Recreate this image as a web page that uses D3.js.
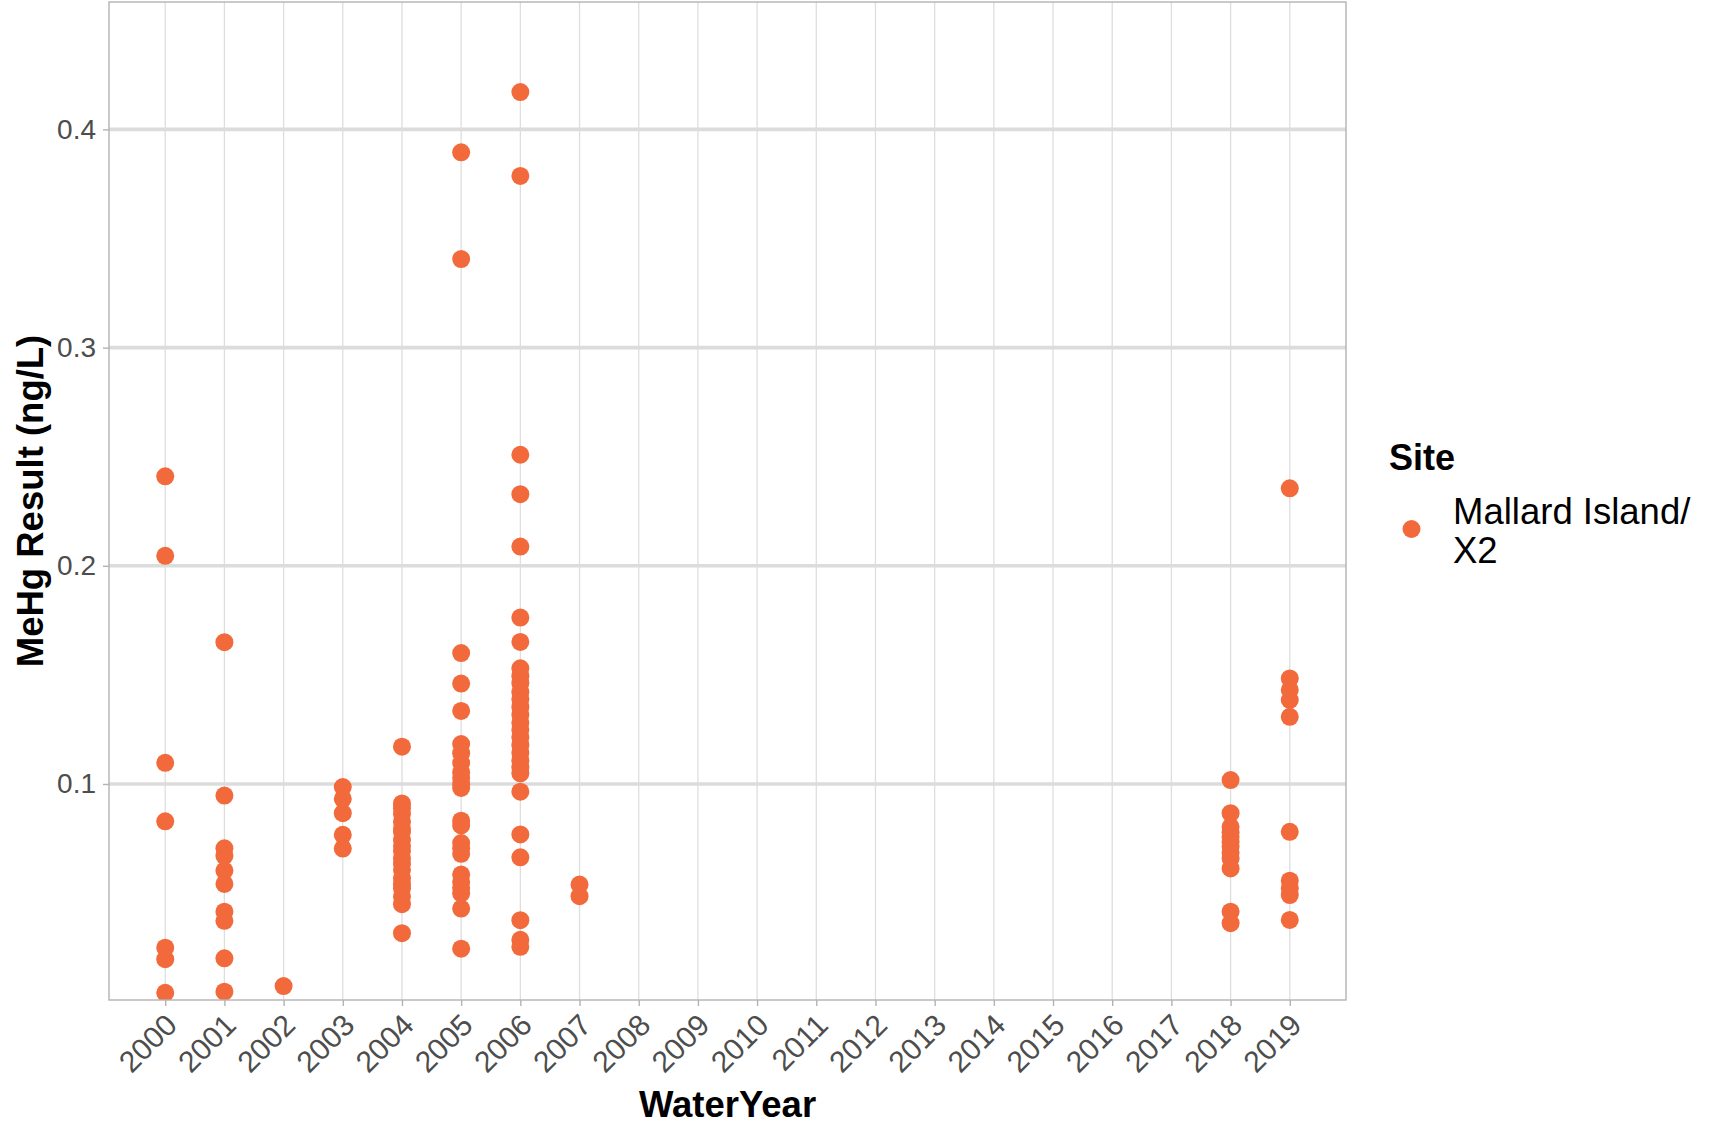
<!DOCTYPE html>
<html>
<head>
<meta charset="utf-8">
<script src="https://cdn.jsdelivr.net/npm/d3@7"></script>
<style>
  html, body { margin: 0; padding: 0; background: #ffffff; }
  svg { display: block; font-family: "Liberation Sans", Arial, sans-serif; }
</style>
</head>
<body>
<svg id="chart" width="1713" height="1126"></svg>
<script>
// ---- Data ----
const tickYears = [2000,2001,2002,2003,2004,2005,2006,2007,2008,2009,2010,2011,2012,2013,2014,2015,2016,2017,2018,2019];
const yTicks = [0.1, 0.2, 0.3, 0.4];
const siteName = "Mallard Island/ X2";

const wy2000 = [0.241, 0.2046, 0.1097, 0.0829, 0.0250, 0.0197, 0.0043];
const wy2001 = [0.165, 0.0947, 0.0705, 0.0670, 0.0603, 0.0542, 0.0415, 0.0373, 0.0201, 0.0048];
const wy2002 = [0.0074];
const wy2003 = [0.0986, 0.0932, 0.0866, 0.0767, 0.0704];
const wy2004 = [0.1171, 0.0911, 0.0889, 0.0862, 0.0827, 0.0795, 0.0781, 0.0743, 0.0716, 0.0694, 0.0659, 0.0633, 0.0606, 0.0568, 0.0541, 0.0522, 0.0484, 0.0449, 0.0316];
const wy2005 = [0.3895, 0.3406, 0.1600, 0.1460, 0.1335, 0.1183, 0.1141, 0.1096, 0.1053, 0.1028, 0.0999, 0.0982, 0.0832, 0.0810, 0.0729, 0.0705, 0.0680, 0.0585, 0.0552, 0.0524, 0.0499, 0.0429, 0.0245];
const wy2006 = [0.4171, 0.3787, 0.2509, 0.2328, 0.2088, 0.1763, 0.1651, 0.1530, 0.1494, 0.1462, 0.1421, 0.1388, 0.1352, 0.1316, 0.1281, 0.1249, 0.1214, 0.1178, 0.1142, 0.1108, 0.1076, 0.1049, 0.0965, 0.0769, 0.0664, 0.0376, 0.0286, 0.0254];
const wy2007 = [0.0539, 0.0486];
const wy2018 = [0.1018, 0.0866, 0.0804, 0.0778, 0.0758, 0.0734, 0.0713, 0.0685, 0.0659, 0.0613, 0.0415, 0.0362];
const wy2019 = [0.2355, 0.1484, 0.1431, 0.1385, 0.1308, 0.0781, 0.0557, 0.0522, 0.0491, 0.0377];

const seriesByYear = [
  [2000, wy2000], [2001, wy2001], [2002, wy2002], [2003, wy2003], [2004, wy2004],
  [2005, wy2005], [2006, wy2006], [2007, wy2007], [2018, wy2018], [2019, wy2019]
];
const points = [];
seriesByYear.forEach(([yr, vals]) => vals.forEach(v => points.push({year: yr, value: v})));

// ---- Layout ----
const svg = d3.select("#chart");
const panel = {left: 109, right: 1346, top: 2, bottom: 1000};
const pointColor = "#F26A3C";

const x = d3.scaleLinear().domain([1999.05, 2019.95]).range([panel.left, panel.right]);
const y = d3.scaleLinear().domain([0.001, 0.4584]).range([panel.bottom, panel.top]);

svg.append("defs").append("clipPath").attr("id", "panelClip")
  .append("rect").attr("x", panel.left).attr("y", panel.top)
  .attr("width", panel.right - panel.left).attr("height", panel.bottom - panel.top);

svg.append("rect").attr("x", panel.left).attr("y", panel.top)
  .attr("width", panel.right - panel.left).attr("height", panel.bottom - panel.top)
  .attr("fill", "#ffffff");

// vertical grid lines
svg.append("g").selectAll("line").data(tickYears).join("line")
  .attr("x1", d => x(d)).attr("x2", d => x(d))
  .attr("y1", panel.top).attr("y2", panel.bottom)
  .attr("stroke", "#DEDEDE").attr("stroke-width", 1.3);

// horizontal grid lines
svg.append("g").selectAll("line").data(yTicks).join("line")
  .attr("x1", panel.left).attr("x2", panel.right)
  .attr("y1", d => y(d)).attr("y2", d => y(d))
  .attr("stroke", "#DCDCDC").attr("stroke-width", 3.6);

// points
svg.append("g").attr("clip-path", "url(#panelClip)")
  .selectAll("circle").data(points).join("circle")
  .attr("cx", d => x(d.year)).attr("cy", d => y(d.value))
  .attr("r", 9).attr("fill", pointColor);

// panel border
svg.append("rect").attr("x", panel.left).attr("y", panel.top)
  .attr("width", panel.right - panel.left).attr("height", panel.bottom - panel.top)
  .attr("fill", "none").attr("stroke", "#B3B3B3").attr("stroke-width", 1.4);

// Y axis
const yAxis = d3.axisLeft(y).tickValues(yTicks).tickSize(6).tickPadding(7)
  .tickFormat(d3.format(".1f"));
const gy = svg.append("g").attr("transform", `translate(${panel.left},0)`).call(yAxis);
gy.select(".domain").remove();
gy.selectAll(".tick line").attr("stroke", "#B3B3B3").attr("stroke-width", 1.4);
gy.selectAll(".tick text").attr("fill", "#4D4D4D")
  .style("font-size", "28px").style("font-family", "Liberation Sans, Arial, sans-serif");

// X axis
const xAxis = d3.axisBottom(x).tickValues(tickYears).tickSize(6).tickFormat(d3.format("d"));
const gx = svg.append("g").attr("transform", `translate(0,${panel.bottom})`).call(xAxis);
gx.select(".domain").remove();
gx.selectAll(".tick line").attr("stroke", "#B3B3B3").attr("stroke-width", 1.4);
gx.selectAll(".tick text").attr("fill", "#4D4D4D")
  .style("font-size", "30px").style("font-family", "Liberation Sans, Arial, sans-serif")
  .attr("text-anchor", "end").attr("dy", null).attr("y", null)
  .attr("transform", "translate(13,27) rotate(-45)");

// Axis titles
svg.append("text").attr("x", (panel.left + panel.right) / 2).attr("y", 1117)
  .attr("text-anchor", "middle").attr("font-weight", "bold").attr("font-size", 36.5)
  .attr("fill", "#000").text("WaterYear");

svg.append("text").attr("transform", `translate(43,${(panel.top + panel.bottom) / 2}) rotate(-90)`)
  .attr("text-anchor", "middle").attr("font-weight", "bold").attr("font-size", 36.5)
  .attr("fill", "#000").text("MeHg Result (ng/L)");

// Legend
const legend = svg.append("g");
legend.append("text").attr("x", 1389).attr("y", 470)
  .attr("font-weight", "bold").attr("font-size", 36).attr("fill", "#000").text("Site");
legend.append("circle").attr("cx", 1411.5).attr("cy", 529).attr("r", 9).attr("fill", pointColor);
const lbl = legend.append("text").attr("x", 1453).attr("y", 524)
  .attr("font-size", 36.5).attr("fill", "#000");
const parts = siteName.split(" ");
lbl.append("tspan").attr("x", 1453).attr("y", 524).text(parts.slice(0, 2).join(" "));
lbl.append("tspan").attr("x", 1453).attr("y", 563).text(parts.slice(2).join(" "));
</script>
</body>
</html>
